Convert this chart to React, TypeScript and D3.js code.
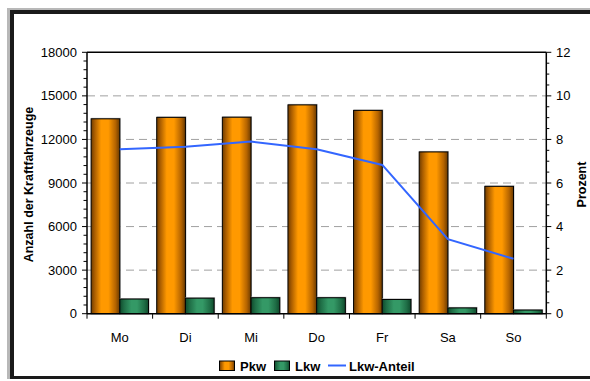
import React from "react";
import * as d3 from "d3";

const categories = ["Mo", "Di", "Mi", "Do", "Fr", "Sa", "So"];
const pkw = [13420, 13520, 13530, 14380, 14000, 11140, 8770];
const lkw = [1010, 1070, 1100, 1100, 980, 400, 250];
const lkwAnteil = [7.55, 7.66, 7.9, 7.55, 6.83, 3.42, 2.52];
const leftTicks = [0, 3000, 6000, 9000, 12000, 15000, 18000];
const rightTicks = [0, 2, 4, 6, 8, 10, 12];
const seriesNames = ["Pkw", "Lkw", "Lkw-Anteil"];

const W = 590;
const H = 381;
const plot = { x0: 87, x1: 546.3, y0: 52.3, y1: 313.7 };
const FONT = "'Liberation Sans', Arial, sans-serif";

export default function App() {
  const x0 = d3.scaleBand<string>().domain(categories).range([plot.x0, plot.x1]).padding(0);
  const x1 = d3
    .scaleBand<string>()
    .domain(["Pkw", "Lkw"])
    .range([0, x0.bandwidth()])
    .paddingInner(0)
    .paddingOuter(0.143);
  const yL = d3.scaleLinear().domain([0, 18000]).range([plot.y1, plot.y0]);
  const yR = d3.scaleLinear().domain([0, 12]).range([plot.y1, plot.y0]);

  const minorL = d3.range(0, 18000 + 1, 600);
  const minorR = d3.range(0, 12 + 0.001, 0.5);

  const line = d3
    .line<number>()
    .x((_, i) => (x0(categories[i]) as number) + x0.bandwidth() / 2)
    .y((d) => yR(d));

  const boundaries = d3.range(0, categories.length + 1).map((i) => plot.x0 + i * x0.step());

  return (
    <svg
      width={W}
      height={H}
      style={{ position: "absolute", left: 0, top: 0, display: "block" }}
      fontFamily={FONT}
    >
      <defs>
        <linearGradient id="gPkw" x1="0" x2="1" y1="0" y2="0">
          <stop offset="0" stopColor="#6e3c00" />
          <stop offset="0.12" stopColor="#a85c00" />
          <stop offset="0.35" stopColor="#ff9900" />
          <stop offset="0.6" stopColor="#ff9900" />
          <stop offset="0.85" stopColor="#b56400" />
          <stop offset="1" stopColor="#6a3a00" />
        </linearGradient>
        <linearGradient id="gLkw" x1="0" x2="1" y1="0" y2="0">
          <stop offset="0" stopColor="#0f4a2c" />
          <stop offset="0.15" stopColor="#1f6e46" />
          <stop offset="0.4" stopColor="#349966" />
          <stop offset="0.6" stopColor="#349966" />
          <stop offset="0.85" stopColor="#1f6e46" />
          <stop offset="1" stopColor="#0f4a2c" />
        </linearGradient>
      </defs>

      {/* frame */}
      <rect x={0} y={0} width={W} height={H} fill="#ffffff" />
      <rect x={7} y={8} width={600} height={371} fill="#b8b8b8" />
      <rect x={10} y={10} width={600} height={369} fill="#1a1a1a" />
      <rect x={14} y={14} width={600} height={362} fill="#ffffff" />

      {/* gridlines */}
      {leftTicks
        .filter((t) => t > 0 && t < 18000)
        .map((t) => (
          <line
            key={"g" + t}
            x1={plot.x0}
            x2={plot.x1}
            y1={yL(t)}
            y2={yL(t)}
            stroke="#a0a0a0"
            strokeWidth={1}
            strokeDasharray="8,5"
          />
        ))}

      {/* bars */}
      {categories.map((c, i) => {
        const bx = x0(c) as number;
        const xp = bx + (x1("Pkw") as number);
        const xl = bx + (x1("Lkw") as number);
        const bw = x1.bandwidth();
        return (
          <g key={c}>
            <rect x={xp} y={yL(pkw[i]) - 1} width={bw + 1} height={plot.y1 - yL(pkw[i]) + 1} fill="#bbbbbb" />
            <rect
              x={xp}
              y={yL(pkw[i])}
              width={bw}
              height={plot.y1 - yL(pkw[i])}
              fill="url(#gPkw)"
              stroke="#000"
              strokeWidth={1}
            />
            <rect x={xl} y={yL(lkw[i]) - 1} width={bw + 1} height={plot.y1 - yL(lkw[i]) + 1} fill="#bbbbbb" />
            <rect
              x={xl}
              y={yL(lkw[i])}
              width={bw}
              height={plot.y1 - yL(lkw[i])}
              fill="url(#gLkw)"
              stroke="#000"
              strokeWidth={1}
            />
          </g>
        );
      })}

      {/* line */}
      <path d={line(lkwAnteil) || ""} fill="none" stroke="#3366ff" strokeWidth={2} />

      {/* plot border top */}
      <line x1={plot.x0} x2={plot.x1} y1={plot.y0} y2={plot.y0} stroke="#000" strokeWidth={1.5} />
      {/* axes */}
      <line x1={plot.x0} x2={plot.x0} y1={plot.y0} y2={plot.y1} stroke="#000" strokeWidth={1.5} />
      <line x1={plot.x1} x2={plot.x1} y1={plot.y0} y2={plot.y1} stroke="#000" strokeWidth={1.5} />
      <line x1={plot.x0} x2={plot.x1} y1={plot.y1} y2={plot.y1} stroke="#000" strokeWidth={1.5} />

      {/* left ticks */}
      {minorL.map((t) => (
        <line
          key={"ml" + t}
          x1={plot.x0 - (t % 3000 === 0 ? 5 : 3.5)}
          x2={plot.x0}
          y1={yL(t)}
          y2={yL(t)}
          stroke="#000"
          strokeWidth={1}
        />
      ))}
      {leftTicks.map((t) => (
        <text key={"tl" + t} x={77} y={yL(t)} dy="0.35em" textAnchor="end" fontSize={13} fill="#000">
          {t}
        </text>
      ))}

      {/* right ticks */}
      {minorR.map((t) => (
        <line
          key={"mr" + t}
          x1={plot.x1}
          x2={plot.x1 + (Math.abs(t % 2) < 0.001 ? 5 : 3)}
          y1={yR(t)}
          y2={yR(t)}
          stroke="#000"
          strokeWidth={1}
        />
      ))}
      {rightTicks.map((t) => (
        <text key={"tr" + t} x={556} y={yR(t)} dy="0.35em" textAnchor="start" fontSize={13} fill="#000">
          {t}
        </text>
      ))}

      {/* x ticks */}
      {boundaries.map((bx, i) => (
        <line key={"xb" + i} x1={bx} x2={bx} y1={plot.y1} y2={plot.y1 + 5} stroke="#000" strokeWidth={1} />
      ))}
      {categories.map((c) => (
        <text
          key={"xl" + c}
          x={(x0(c) as number) + x0.bandwidth() / 2}
          y={341.5}
          textAnchor="middle"
          fontSize={13}
          fill="#000"
        >
          {c}
        </text>
      ))}

      {/* axis titles */}
      <text
        transform={`translate(32.5, ${(plot.y0 + plot.y1) / 2 + 1.5}) rotate(-90)`}
        textAnchor="middle"
        fontSize={12.5}
        fontWeight="bold"
        fill="#000"
      >
        Anzahl der Kraftfahrzeuge
      </text>
      <text
        transform={`translate(585.5, ${(plot.y0 + plot.y1) / 2 + 1.5}) rotate(-90)`}
        textAnchor="middle"
        fontSize={12.5}
        fontWeight="bold"
        fill="#000"
      >
        Prozent
      </text>

      {/* legend */}
      <g>
        <rect x={219.5} y={361} width={15} height={9.5} fill="url(#gPkw)" stroke="#000" strokeWidth={1} />
        <text x={240} y={370.5} fontSize={13} fontWeight="bold" fill="#000">
          {seriesNames[0]}
        </text>
        <rect x={274.5} y={361} width={15} height={9.5} fill="url(#gLkw)" stroke="#000" strokeWidth={1} />
        <text x={295} y={370.5} fontSize={13} fontWeight="bold" fill="#000">
          {seriesNames[1]}
        </text>
        <line x1={328} x2={346} y1={365.5} y2={365.5} stroke="#3366ff" strokeWidth={2} />
        <text x={349} y={370.5} fontSize={13} fontWeight="bold" fill="#000">
          {seriesNames[2]}
        </text>
      </g>
    </svg>
  );
}
